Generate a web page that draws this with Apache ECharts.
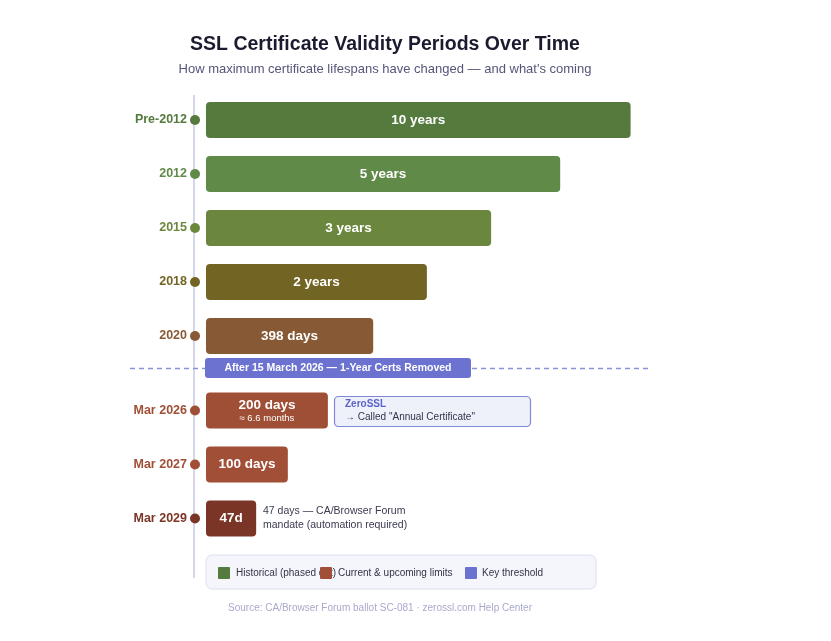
<!DOCTYPE html>
<html>
<head>
<meta charset="utf-8">
<script src="https://cdn.jsdelivr.net/npm/echarts@6/dist/echarts.min.js"></script>
<style>
html,body{margin:0;padding:0;background:#fff;}
#c{width:831px;height:641px;}
</style>
</head>
<body>
<div id="c"></div>
<script>
// ---- data ----
const categoriesTop = ['Pre-2012', '2012', '2015', '2018', '2020'];
const categoriesBottom = ['Mar 2026', 'Mar 2027', 'Mar 2029'];
const barTextTop = ['10 years', '5 years', '3 years', '2 years', '398 days'];
const barTextBottom = ['200 days', '100 days', '47d'];
const subTextBottom = ['≈ 6.6 months', '', ''];
// relative bar length as drawn in the chart (visual scale, 0-100)
const scaleTop = [96.5, 80.5, 64.8, 50.2, 38];
const scaleBottom = [27.7, 18.6, 11.4];
const colorsTop = ['#547a3d', '#5f8a47', '#6b873e', '#726524', '#875a35'];
const colorsBottom = ['#9f4f35', '#a14f37', '#7b3526'];
const legendItems = ['Historical (phased out)', 'Current & upcoming limits', 'Key threshold'];
const legendColors = ['#547a3d', '#a14f37', '#6b72cf'];
const thresholdText = 'After 15 March 2026 — 1-Year Certs Removed';
const zeroSslTitle = 'ZeroSSL';
const zeroSslText = '→ Called "Annual Certificate"';
const note47 = ['47 days — CA/Browser Forum', 'mandate (automation required)'];
const titleText = 'SSL Certificate Validity Periods Over Time';
const subtitleText = "How maximum certificate lifespans have changed — and what's coming";
const sourceText = 'Source: CA/Browser Forum ballot SC-081 · zerossl.com Help Center';

const FONT = '"Liberation Sans", Arial, Helvetica, sans-serif';

function axisRich(colors) {
  const rich = {};
  colors.forEach((c, i) => {
    rich['t' + i] = { color: c, fontWeight: 'bold', fontSize: 12.5, fontFamily: FONT, padding: [0, 3, 0, 0] };
    rich['d' + i] = { width: 10, height: 10, borderRadius: 5, backgroundColor: c };
  });
  return rich;
}

function yAxisFor(cats, colors, gi) {
  return {
    type: 'category', gridIndex: gi, data: cats, inverse: true,
    axisLine: { show: false }, axisTick: { show: false }, splitLine: { show: false },
    axisLabel: {
      margin: 6,
      formatter: (v, i) => '{t' + i + '|' + v + '}{d' + i + '|}',
      rich: axisRich(colors)
    },
    z: 5
  };
}

function barSeries(vals, colors, texts, subs, gi) {
  return {
    type: 'bar', xAxisIndex: gi, yAxisIndex: gi, barWidth: 36,
    data: vals.map((v, i) => ({ value: v, itemStyle: { color: colors[i], borderRadius: 4 } })),
    label: {
      show: true, position: 'inside',
      formatter: p => (subs && subs[p.dataIndex]) ? '{a|' + texts[p.dataIndex] + '}\n{b|' + subs[p.dataIndex] + '}' : '{a|' + texts[p.dataIndex] + '}',
      rich: {
        a: { color: '#fff', fontWeight: 'bold', fontSize: 13.5, fontFamily: FONT, lineHeight: 15 },
        b: { color: '#fff', fontSize: 9.5, fontFamily: FONT, lineHeight: 11 }
      }
    },
    silent: true
  };
}

const chart = echarts.init(document.getElementById('c'), null, { renderer: 'canvas' });
chart.setOption({
  backgroundColor: '#ffffff',
  animation: false,
  title: [
    { text: titleText, left: 380, top: 30, textAlign: 'center',
      textStyle: { fontSize: 19.5, fontWeight: 'bold', color: '#1b1b30', fontFamily: FONT } },
    { text: subtitleText, left: 380, top: 58, textAlign: 'center',
      textStyle: { fontSize: 13, fontWeight: 'normal', color: '#55557a', fontFamily: FONT } }
  ],
  grid: [
    { left: 206, width: 440, top: 93, height: 270 },
    { left: 206, width: 440, top: 383.5, height: 162 }
  ],
  xAxis: [
    { type: 'value', gridIndex: 0, min: 0, max: 100, show: false },
    { type: 'value', gridIndex: 1, min: 0, max: 100, show: false }
  ],
  yAxis: [
    yAxisFor(categoriesTop, colorsTop, 0),
    yAxisFor(categoriesBottom, colorsBottom, 1)
  ],
  series: [
    barSeries(scaleTop, colorsTop, barTextTop, null, 0),
    barSeries(scaleBottom, colorsBottom, barTextBottom, subTextBottom, 1)
  ],
  graphic: [
    // timeline spine
    { type: 'line', z: -1, shape: { x1: 194, y1: 95, x2: 194, y2: 578 }, style: { stroke: '#d6d6ea', lineWidth: 2 } },
    // threshold dashed line
    { type: 'line', z: 1, shape: { x1: 130, y1: 368.5, x2: 650, y2: 368.5 }, style: { stroke: '#8a90d8', lineWidth: 1.5, lineDash: [5, 4] } },
    { type: 'rect', z: 2, shape: { x: 205, y: 358, width: 266, height: 20, r: 3 }, style: { fill: '#6b72cf' } },
    { type: 'text', z: 3, x: 338, y: 368, style: { text: thresholdText, fill: '#fff', font: 'bold 10.5px ' + FONT, align: 'center', verticalAlign: 'middle' } },
    // ZeroSSL box
    { type: 'rect', z: 2, shape: { x: 334.5, y: 396.5, width: 196, height: 30, r: 4 }, style: { fill: '#eef0fa', stroke: '#8088d8', lineWidth: 1.2 } },
    { type: 'text', z: 3, x: 345, y: 404.5, style: { text: zeroSslTitle, fill: '#5b63c9', font: 'bold 10px ' + FONT, verticalAlign: 'middle' } },
    { type: 'text', z: 3, x: 345, y: 417.5, style: { text: zeroSslText, fill: '#33334a', font: '10px ' + FONT, verticalAlign: 'middle' } },
    // 47 days note
    { type: 'text', z: 3, x: 263, y: 511, style: { text: note47[0], fill: '#3a3a50', font: '10.5px ' + FONT, verticalAlign: 'middle' } },
    { type: 'text', z: 3, x: 263, y: 525, style: { text: note47[1], fill: '#3a3a50', font: '10.5px ' + FONT, verticalAlign: 'middle' } },
    // legend box
    { type: 'rect', z: 1, shape: { x: 206, y: 555, width: 390, height: 34, r: 6 }, style: { fill: '#f5f6fb', stroke: '#dcdff0', lineWidth: 1 } },
    { type: 'rect', z: 2, shape: { x: 218, y: 567, width: 12, height: 12, r: 1 }, style: { fill: legendColors[0] } },
    { type: 'text', z: 2, x: 236, y: 573.5, style: { text: legendItems[0], fill: '#333344', font: '10px ' + FONT, verticalAlign: 'middle' } },
    { type: 'rect', z: 3, shape: { x: 320, y: 567, width: 12, height: 12, r: 1 }, style: { fill: legendColors[1] } },
    { type: 'text', z: 3, x: 338, y: 573.5, style: { text: legendItems[1], fill: '#333344', font: '10px ' + FONT, verticalAlign: 'middle' } },
    { type: 'rect', z: 2, shape: { x: 465, y: 567, width: 12, height: 12, r: 1 }, style: { fill: legendColors[2] } },
    { type: 'text', z: 2, x: 482, y: 573.5, style: { text: legendItems[2], fill: '#333344', font: '10px ' + FONT, verticalAlign: 'middle' } },
    // source
    { type: 'text', z: 2, x: 380, y: 608, style: { text: sourceText, fill: '#a9a9cc', font: '10px ' + FONT, align: 'center', verticalAlign: 'middle' } }
  ]
});
</script>
</body>
</html>
